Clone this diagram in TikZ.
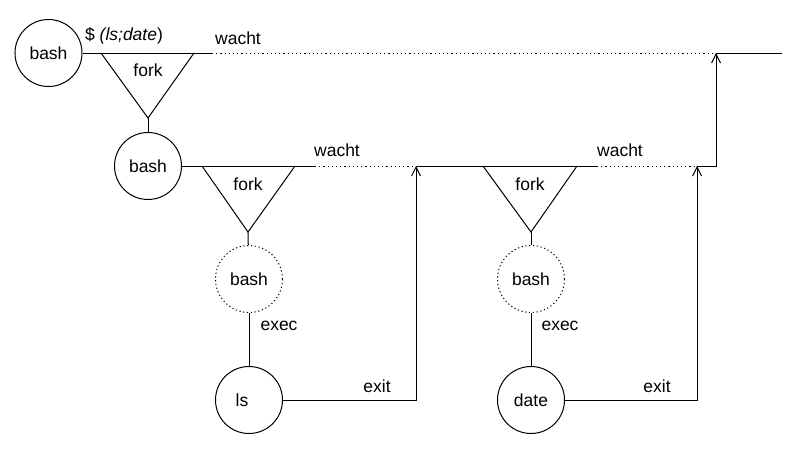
\documentclass[tikz,border=0pt]{standalone}
\usepackage{fontspec}
\setmainfont{Liberation Sans}
\usetikzlibrary{arrows.meta}

\begin{document}
\begin{tikzpicture}[x=1pt, y=-1pt, line width=1pt,
		every node/.style={font=\fontsize{17.5}{20}\selectfont},
		proc/.style={draw, circle, minimum size=67pt, inner sep=0pt},
		ghost/.style={proc, dash pattern=on 1.2pt off 2.6pt},
		wait/.style={dash pattern=on 1.2pt off 3pt},
		up/.style={-{Straight Barb[length=9pt, width=9pt]}}]
			\useasboundingbox (0,0) rectangle (795,463);
			
			\node[proc]  (bash1) at (48.5, 53)  {bash};
			\node[proc]  (bash2) at (148, 166)  {bash};
			\node[ghost] (bash3) at (249, 279)  {bash};
			\node[proc]  (ls)    at (249, 400)  {ls\kern14pt};
			\node[ghost] (bash4) at (531, 279)  {bash};
			\node[proc]  (date)  at (531, 400)  {date};
			
			% tops and apexes of the fork triangles
			\coordinate (f1l) at (101, 53);  \coordinate (f1r) at (194, 53);  \coordinate (f1) at (148, 118);
			\coordinate (f2l) at (202, 166); \coordinate (f2r) at (295, 166); \coordinate (f2) at (248, 232);
			\coordinate (f3l) at (483, 166); \coordinate (f3r) at (577, 166); \coordinate (f3) at (531, 232);
			
			\def\forks {f1l/f1/f1r/bash2, f2l/f2/f2r/bash3, f3l/f3/f3r/bash4}  % fork triangles
			\foreach \l\a\r\c in \forks
			{	\draw (\l) -- (\a) -- (\r);
				\draw (\a) -- (\c);}
			
			% top line of the shell
			\coordinate (w1) at (212, 53);
			\coordinate (j1) at (716, 53);
			\coordinate (e1) at (782, 53);
			\draw (bash1) -- (w1);
			\draw[wait] (w1) -- (j1);
			\draw (j1) -- (e1);
			
			% line of the child shell
			\coordinate (w2) at (315, 166);
			\coordinate (j2) at (416, 166);
			\coordinate (w3) at (597, 166);
			\coordinate (j3) at (697, 166);
			\coordinate (k3) at (716, 166);
			\draw (bash2) -- (w2);
			\draw[wait] (w2) -- (j2);
			\draw (j2) -- (w3);
			\draw[wait] (w3) -- (j3);
			\draw[up] (j3) -- (k3) -- (j1);
			
			\def\execs {bash3/ls, bash4/date}  % exec
			\foreach \u\v in \execs
			{	\draw (\u) -- (\v);}
			
			% exit back to the waiting shell
			\draw[up] (ls) -- (ls -| j2) -- (j2);
			\draw[up] (date) -- (date -| j3) -- (j3);
			
			\node at (124, 36)  {\$ \textit{(ls;date})};
			\node at (238, 38)  {wacht};
			\node at (337, 150) {wacht};
			\node at (620, 150) {wacht};
			\node at (148, 70)  {fork};
			\node at (248, 184) {fork};
			\node at (530, 184) {fork};
			\node at (279, 326) {exec};
			\node at (560, 326) {exec};
			\node at (377, 386) {exit};
			\node at (657, 386) {exit};
		\end{tikzpicture}
\end{document}
